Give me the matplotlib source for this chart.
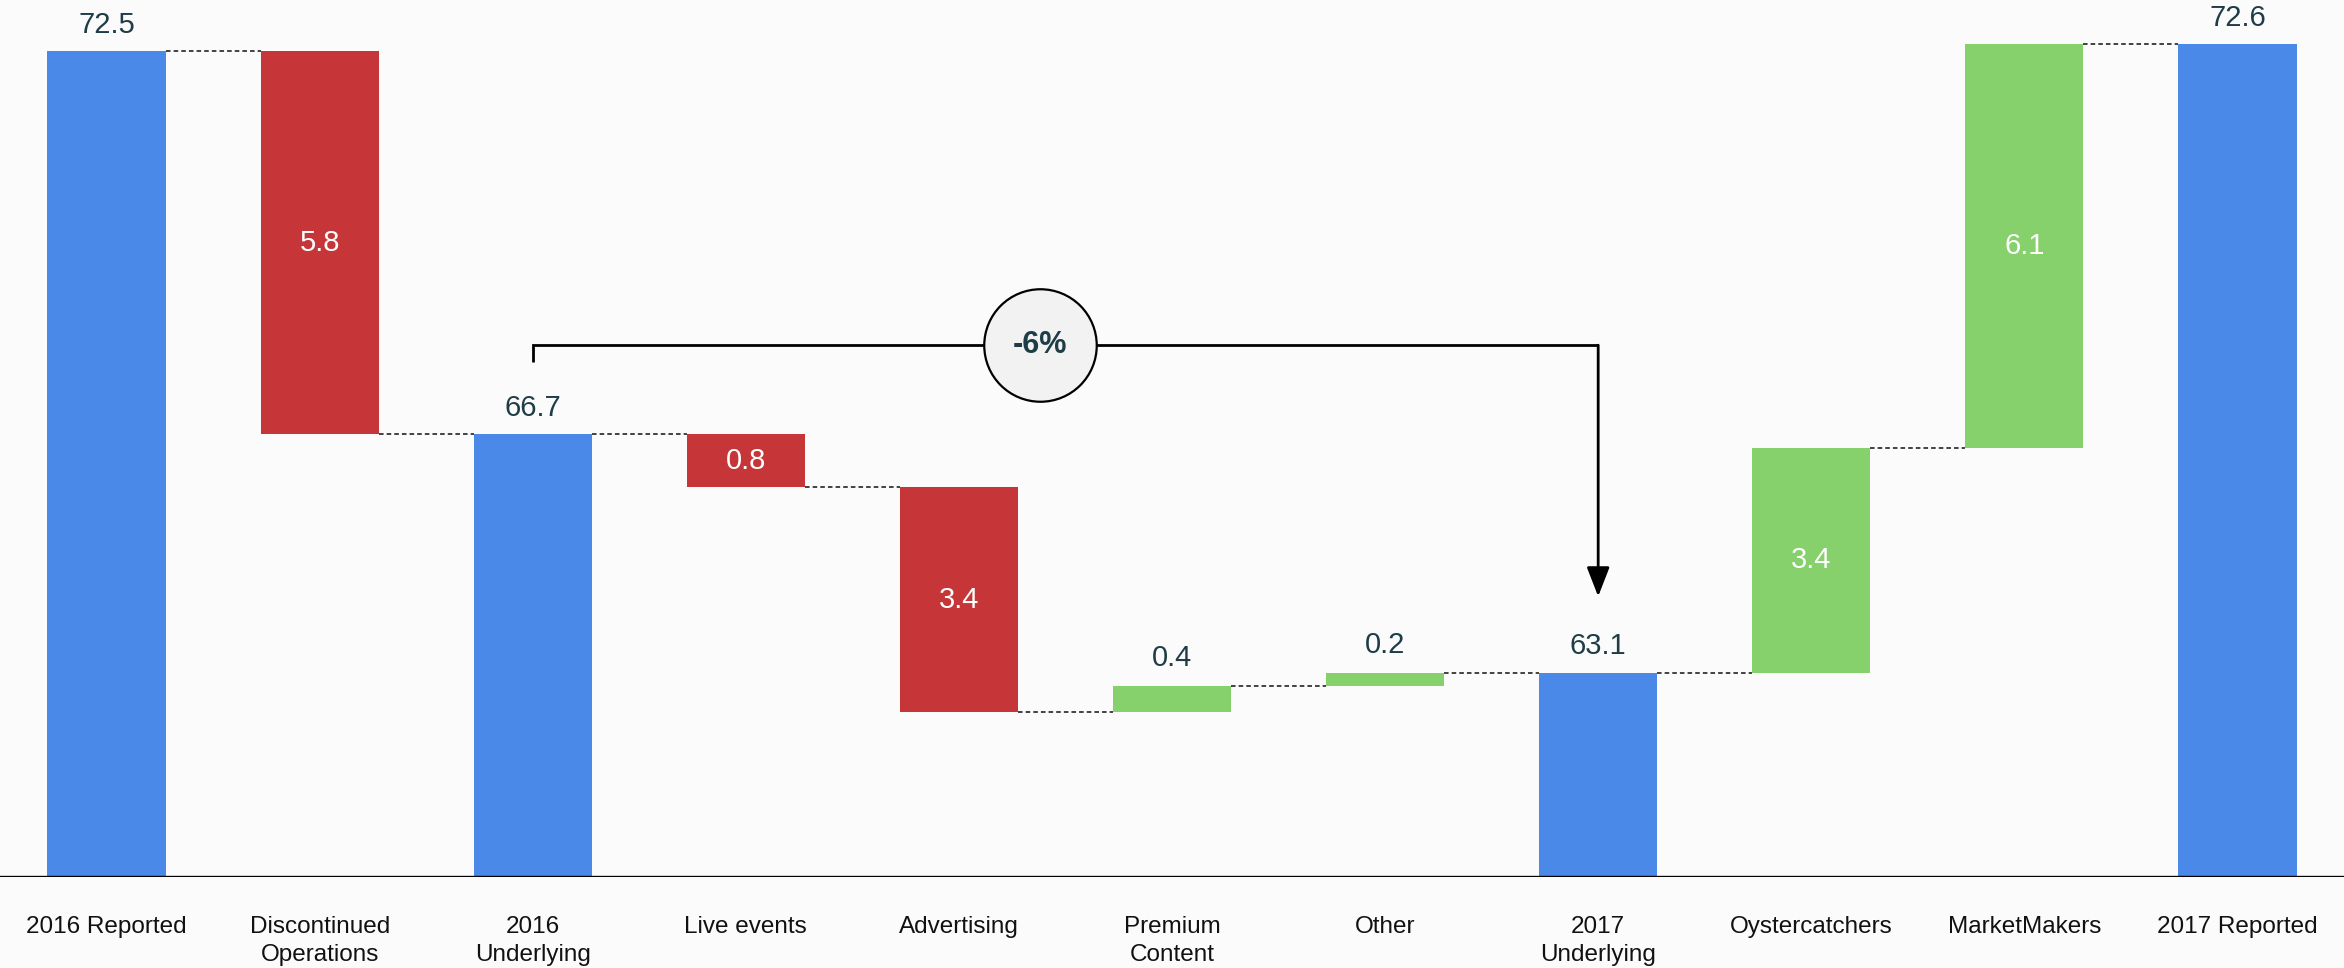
import matplotlib
matplotlib.use("Agg")
import matplotlib.pyplot as plt

plt.rcParams['font.family'] = ['Liberation Sans', 'DejaVu Sans']

# ---- data ----
categories = ["2016 Reported", "Discontinued\nOperations", "2016\nUnderlying",
              "Live events", "Advertising", "Premium\nContent", "Other",
              "2017\nUnderlying", "Oystercatchers", "MarketMakers", "2017 Reported"]
values = [72.5, -5.8, 66.7, -0.8, -3.4, 0.4, 0.2, 63.1, 3.4, 6.1, 72.6]
is_total = [True, False, True, False, False, False, False, True, False, False, True]
change_label = "-6%"
change_from = 2
change_to = 7

# ---- style ----
BLUE = "#4a89e8"
RED = "#c63638"
GREEN = "#86d16b"
LABEL_DARK = "#1f3d47"
BG = "#fbfbfb"
BASE = 60.0

fig = plt.figure(figsize=(23.44, 9.68), dpi=100, facecolor=BG)
ax = fig.add_axes([0, 0.0935, 1, 0.9065])
ax.set_facecolor(BG)

bar_w = 0.555
bottoms, heights, colors, tops = [], [], [], []
running = 0.0
for v, tot in zip(values, is_total):
    if tot:
        running = v
        bottoms.append(BASE)
        heights.append(v - BASE)
        colors.append(BLUE)
        tops.append(v)
    else:
        start = running
        running = running + v
        lo, hi = min(start, running), max(start, running)
        bottoms.append(lo)
        heights.append(hi - lo)
        colors.append(GREEN if v > 0 else RED)
        tops.append(hi)

x = list(range(len(values)))
ax.bar(x, heights, bottom=bottoms, width=bar_w, color=colors, zorder=2)

# connectors
levels = []
running = 0.0
for v, tot in zip(values, is_total):
    running = v if tot else running + v
    levels.append(running)
for i in range(len(values) - 1):
    ax.plot([i + bar_w / 2, i + 1 - bar_w / 2], [levels[i], levels[i]],
            color="#111111", lw=1.1, ls=(0, (3, 2)), zorder=1)

# value labels
for i, (v, tot) in enumerate(zip(values, is_total)):
    if tot:
        ax.annotate(f"{v:.1f}", (i, tops[i]), xytext=(0, 13), textcoords="offset points",
                    ha="center", va="baseline", fontsize=21, color=LABEL_DARK)
    elif abs(v) >= 0.5:
        ax.text(i, bottoms[i] + heights[i] / 2, f"{abs(v):.1f}", ha="center", va="center",
                fontsize=21, color="white", zorder=3)
    else:
        ax.annotate(f"{abs(v):.1f}", (i, tops[i]), xytext=(0, 14), textcoords="offset points",
                    ha="center", va="baseline", fontsize=21, color=LABEL_DARK)

# bracket with percent change
y_bracket = values[change_from] + 1.35
y_start = values[change_from] + 1.1
y_tip = values[change_to] + 1.15
ax.plot([change_from, change_from, change_to], [y_start, y_bracket, y_bracket],
        color="black", lw=2, zorder=4, solid_capstyle="butt", solid_joinstyle="miter")
ax.annotate("", xy=(change_to, y_tip), xytext=(change_to, y_bracket),
            arrowprops=dict(arrowstyle="-|>,head_length=0.9,head_width=0.35",
                            lw=2, color="black", shrinkA=0, shrinkB=0, mutation_scale=20),
            zorder=4)
cx = 4.38
ax.plot([cx], [y_bracket], marker="o", ms=81, mfc="#f2f2f2", mec="black", mew=1.6, zorder=5)
ax.text(cx, y_bracket, change_label, ha="center", va="center", fontsize=22,
        fontweight="bold", color=LABEL_DARK, zorder=6)

# axes styling
ax.set_xlim(-0.5, 10.5)
ax.set_ylim(BASE, 73.27)
ax.axhline(BASE, color="black", lw=2.4, zorder=3)
ax.set_xticks(x)
ax.set_xticklabels(categories, fontsize=17.5, color="#111111", linespacing=1.32)
ax.tick_params(axis="x", length=0, pad=28)
ax.set_yticks([])
for s in ax.spines.values():
    s.set_visible(False)

fig.savefig("out.png", dpi=100, facecolor=BG)
